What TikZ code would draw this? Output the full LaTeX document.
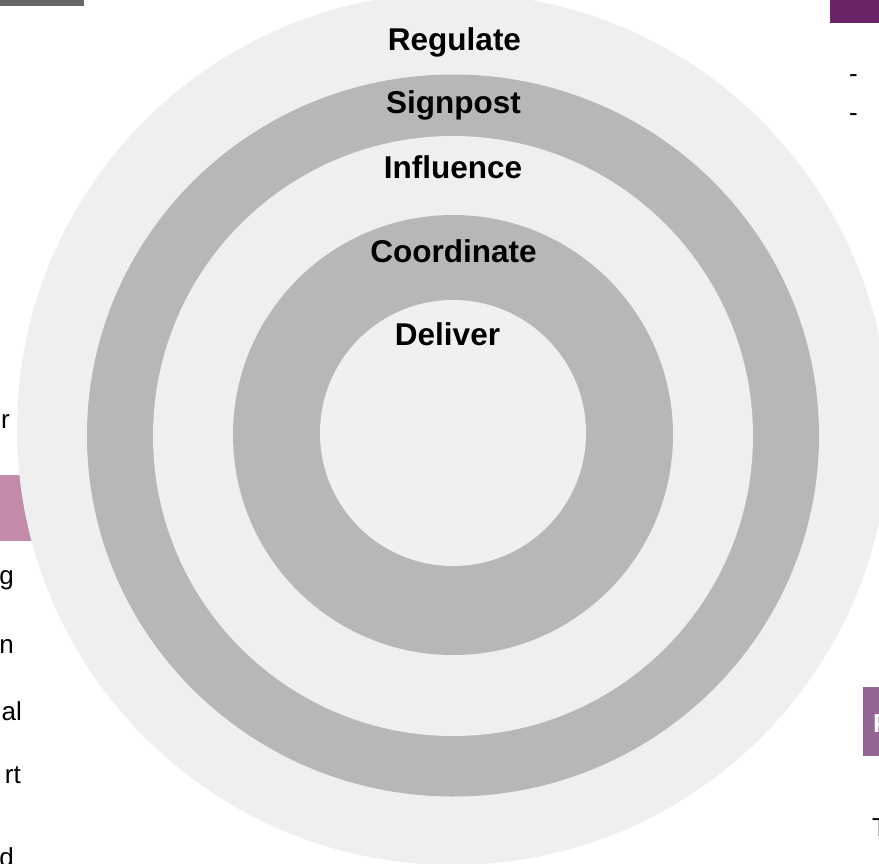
\documentclass[tikz,border=0pt]{standalone}
\usepackage{fontspec}
\setmainfont{Liberation Sans}
\definecolor{lightg}{HTML}{EFEFEF}
\definecolor{darkg}{HTML}{B7B7B7}
\definecolor{innerg}{HTML}{F0F0F0}
\definecolor{bargray}{HTML}{666666}
\definecolor{purpletop}{HTML}{6B2367}
\definecolor{purplebox}{HTML}{946693}
\definecolor{pinkbar}{HTML}{C48AA9}
\begin{document}
\begin{tikzpicture}[x=1pt,y=-1pt,
  lbl/.style={anchor=base, inner sep=0pt, font=\fontsize{31.5}{36}\selectfont\bfseries},
  side/.style={inner sep=0pt, font=\fontsize{26}{30}\selectfont}]
\useasboundingbox (0,0) rectangle (879,863);
% edge fragments
\fill[bargray] (0,0) rectangle (84,6);
\fill[purpletop] (830,0) rectangle (879,23);
\fill[pinkbar] (0,475) rectangle (60,541);
\fill[purplebox] (863,687) rectangle (879,756);
% rings
\fill[lightg] (453,429) circle[radius=436];
\fill[darkg] (453,435.5) ellipse[x radius=366, y radius=361];
\fill[lightg] (453,436) circle[radius=300];
\fill[darkg] (453,435) circle[radius=220];
\fill[innerg] (453,433) circle[radius=133];
% ring labels
\node[lbl] (regulate) at (454.5,50) {Regulate};
\node[lbl] (signpost) at (453.5,113) {Signpost};
\node[lbl] (influence) at (453,178) {Influence};
\node[lbl] (coordinate) at (453.5,262) {Coordinate};
\node[lbl] (deliver) at (447.5,345) {Deliver};
% left text fragments
\node[side, anchor=base east] (l1) at (10,428) {r};
\node[side, anchor=base east] (l2) at (14,584) {g};
\node[side, anchor=base east] (l3) at (14,653) {n};
\node[side, anchor=base east] (l4) at (22,720) {al};
\node[side, anchor=base east] (l5) at (21,783) {rt};
\node[side, anchor=base east] (l6) at (14,866) {d};
% right text fragments
\node[side, anchor=base west] (r1) at (849,82) {-};
\node[side, anchor=base west] (r2) at (849,121) {-};
\node[side, anchor=base west, text=white, font=\fontsize{26}{30}\selectfont\bfseries] (r3) at (873,732) {P};
\node[side, anchor=base west] (r4) at (872,836) {T};
\end{tikzpicture}
\end{document}
